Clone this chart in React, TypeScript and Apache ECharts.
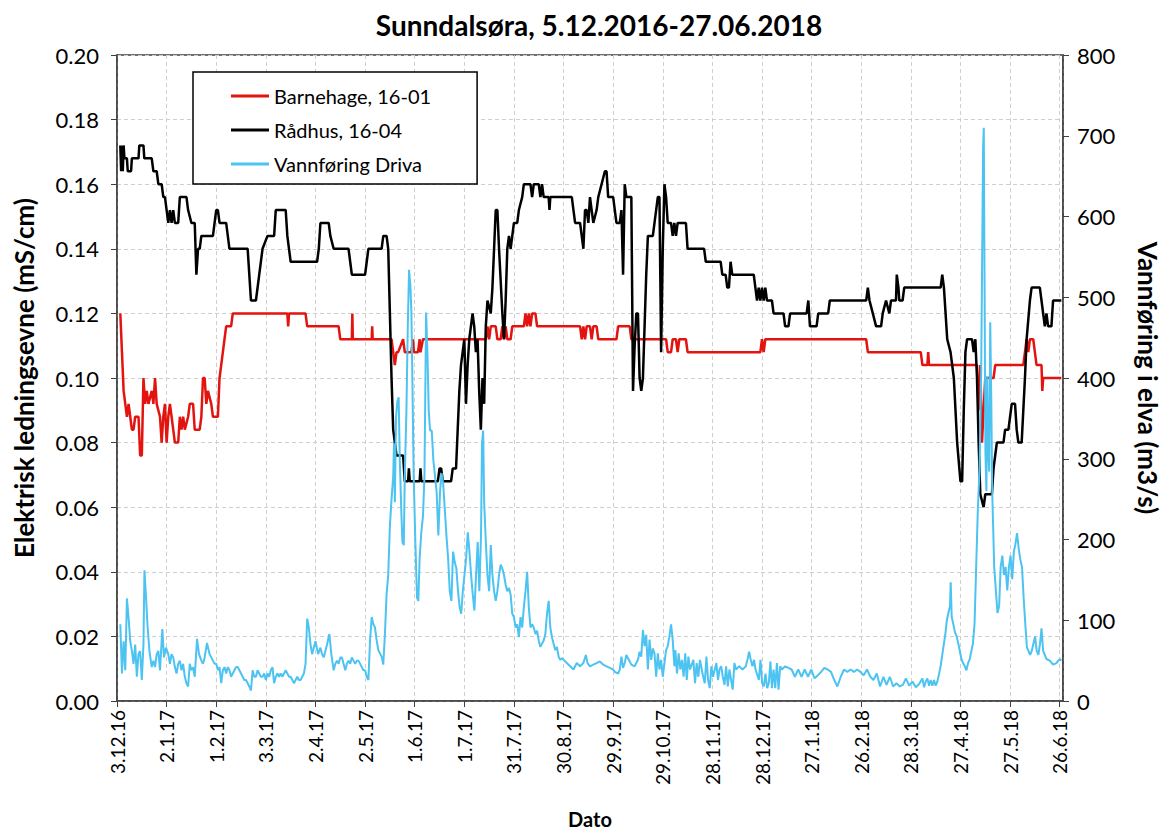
import React, { useEffect, useRef } from "react";
import * as echarts from "echarts";

const titleText = "Sunndalsøra, 5.12.2016-27.06.2018";
const xTickLabels = ["3.12.16","2.1.17","1.2.17","3.3.17","2.4.17","2.5.17","1.6.17","1.7.17","31.7.17","30.8.17","29.9.17","29.10.17","28.11.17","28.12.17","27.1.18","26.2.18","28.3.18","27.4.18","27.5.18","26.6.18"];
const seriesNames = ["Barnehage, 16-01", "Rådhus, 16-04", "Vannføring Driva"];

// [days since 3.12.16, mS/cm]
const barnehage: [number, number][] = [
[2,0.12],[3,0.108],[4,0.096],[5,0.092],[6,0.088],[7,0.092],[8,0.088],[9,0.084],[10,0.084],[11,0.088],[13,0.088],[14,0.076],[15,0.076],[16,0.1],[17,0.092],[18,0.096],[19,0.092],[21,0.096],[22,0.092],[23,0.1],[24,0.092],[26,0.088],[27,0.08],[28,0.088],[29,0.092],[30,0.08],[31,0.088],[32,0.092],[33,0.088],[34,0.084],[35,0.08],[37,0.08],[38,0.088],[39,0.084],[40,0.088],[41,0.084],[43,0.088],[44,0.092],[46,0.092],[47,0.084],[50,0.084],[51,0.088],[52,0.1],[53,0.1],[54,0.092],[55,0.096],[57,0.092],[58,0.088],[61,0.088],[62,0.1],[63,0.104],[64,0.108],[65,0.112],[66,0.116],[69,0.116],[70,0.12],[103,0.12],[103.5,0.116],[104,0.12],[114,0.12],[115,0.116],[134,0.116],[135,0.112],[142,0.112],[142.3,0.12],[142.6,0.112],[154,0.112],[154.3,0.116],[154.6,0.112],[166,0.112],[167,0.108],[168,0.104],[169,0.108],[170,0.108],[173,0.112],[174,0.108],[178,0.108],[179,0.112],[179.5,0.108],[182,0.108],[183,0.112],[183.5,0.108],[185,0.112],[223,0.112],[224,0.116],[225,0.112],[226,0.116],[229,0.116],[230,0.112],[232,0.112],[233,0.116],[234,0.112],[235,0.116],[236,0.112],[238,0.112],[239,0.116],[246,0.116],[247,0.12],[248,0.116],[249,0.12],[250,0.116],[251,0.12],[253,0.12],[254,0.116],[280,0.116],[281,0.112],[282,0.116],[283,0.112],[284,0.116],[286,0.116],[287,0.112],[288,0.116],[290,0.116],[291,0.112],[302,0.112],[303,0.116],[310,0.116],[311,0.112],[332,0.112],[333,0.108],[335,0.108],[336,0.112],[338,0.112],[339,0.108],[340,0.112],[344,0.112],[345,0.108],[389,0.108],[390,0.112],[391,0.108],[392,0.112],[453,0.112],[454,0.108],[486,0.108],[487,0.104],[490,0.104],[490.5,0.108],[491,0.104],[520,0.104],[521,0.09],[522,0.104],[523,0.08],[524,0.09],[525,0.1],[530,0.1],[531,0.104],[548,0.104],[549,0.108],[550,0.112],[551,0.108],[552,0.112],[554,0.112],[555,0.108],[556,0.104],[559,0.104],[559.5,0.096],[560,0.1],[571,0.1]
];

const raadhus: [number, number][] = [
[2,0.172],[2.5,0.164],[3,0.172],[3.5,0.164],[4,0.172],[4.5,0.168],[6,0.168],[6.5,0.164],[8.5,0.164],[9,0.168],[13,0.168],[13.5,0.172],[16,0.172],[16.5,0.168],[21,0.168],[22,0.164],[24,0.164],[25,0.16],[27,0.16],[28,0.156],[29,0.156],[30,0.152],[31,0.148],[32,0.152],[33,0.148],[34,0.152],[35,0.148],[37,0.148],[38,0.156],[42,0.156],[43,0.152],[45,0.148],[47,0.148],[48,0.132],[49,0.14],[50,0.14],[51,0.144],[58,0.144],[59,0.148],[60,0.152],[61,0.152],[62,0.148],[66,0.148],[67,0.144],[68,0.14],[79,0.14],[80,0.132],[81,0.124],[84,0.124],[86,0.132],[88,0.14],[91,0.144],[95,0.144],[96,0.152],[102,0.152],[103,0.144],[104,0.14],[105,0.136],[121,0.136],[122,0.14],[123,0.148],[128,0.148],[129,0.144],[131,0.14],[140,0.14],[141,0.136],[142,0.132],[150,0.132],[151,0.136],[152,0.14],[160,0.14],[161,0.144],[163,0.144],[164,0.14],[165,0.12],[166,0.1],[167,0.084],[168,0.08],[169,0.076],[173,0.076],[174,0.068],[176,0.068],[176.5,0.072],[177,0.068],[183,0.068],[183.5,0.072],[184,0.068],[194,0.068],[195,0.072],[196,0.072],[197,0.068],[202,0.068],[203,0.072],[205,0.072],[206,0.084],[207,0.096],[208,0.104],[209,0.108],[210,0.112],[211,0.092],[212,0.104],[213,0.112],[215,0.12],[216,0.116],[217,0.108],[218,0.112],[219,0.096],[220,0.084],[221,0.1],[222,0.092],[223,0.116],[224,0.124],[226,0.12],[227,0.128],[228,0.14],[229,0.152],[230,0.152],[231,0.14],[233,0.12],[234,0.112],[235,0.124],[236,0.14],[237,0.144],[238,0.14],[239,0.144],[240,0.148],[242,0.148],[243,0.152],[245,0.156],[246,0.16],[250,0.16],[251,0.156],[252,0.16],[255,0.16],[256,0.156],[257,0.16],[258,0.156],[261,0.156],[261.5,0.152],[262,0.156],[275,0.156],[276,0.152],[277,0.148],[280,0.148],[281,0.144],[282,0.14],[283,0.152],[284,0.152],[285,0.148],[286,0.156],[287,0.152],[288,0.148],[290,0.152],[291,0.156],[293,0.16],[295,0.164],[296,0.164],[297,0.156],[300,0.156],[301,0.152],[302,0.148],[304,0.148],[305,0.152],[306,0.132],[307,0.16],[308,0.156],[311,0.156],[312,0.096],[313,0.11],[314,0.12],[315,0.12],[316,0.1],[317,0.096],[318,0.1],[320,0.132],[321,0.144],[324,0.144],[325,0.148],[326,0.152],[327,0.156],[328,0.156],[329,0.108],[330,0.14],[331,0.16],[332,0.156],[333,0.148],[335,0.148],[336,0.144],[337,0.148],[338,0.144],[339,0.148],[344,0.148],[345,0.14],[355,0.14],[356,0.136],[365,0.136],[366,0.132],[368,0.132],[369,0.128],[370,0.128],[371,0.136],[372,0.132],[385,0.132],[386,0.128],[387,0.124],[388,0.128],[389,0.124],[390,0.128],[391,0.124],[392,0.128],[393,0.124],[396,0.124],[397,0.12],[403,0.12],[404,0.116],[406,0.116],[407,0.12],[417,0.12],[418,0.124],[419,0.116],[423,0.116],[424,0.12],[430,0.12],[431,0.124],[453,0.124],[454,0.128],[455,0.124],[457,0.12],[459,0.116],[462,0.116],[463,0.12],[465,0.124],[467,0.12],[468,0.124],[471,0.124],[471.5,0.132],[472.5,0.128],[473,0.124],[475,0.124],[476,0.128],[498,0.128],[499,0.132],[500,0.128],[501,0.12],[502,0.112],[504,0.108],[506,0.1],[508,0.08],[510,0.068],[511,0.068],[512,0.09],[513,0.108],[514,0.112],[517,0.112],[518,0.108],[519,0.112],[520,0.1],[521,0.08],[522,0.064],[524,0.06],[525,0.064],[529,0.064],[530,0.072],[531,0.076],[532,0.08],[536,0.08],[537,0.084],[539,0.084],[540,0.088],[541,0.092],[543,0.092],[544,0.084],[545,0.08],[547,0.08],[549,0.1],[550,0.112],[552,0.124],[553,0.128],[558,0.128],[559,0.124],[560,0.12],[561,0.116],[562,0.12],[563,0.116],[565,0.116],[566,0.124],[571,0.124]
];

// [days since 3.12.16, m3/s]
const vannforing: [number, number][] = [
[2,95],[3,34],[4,74],[5,38],[6,127],[7,103],[8,74],[9,62],[10,46],[11,70],[12,30],[13,58],[14,62],[15,26],[16,70],[16.6,162],[17.6,127],[18.4,95],[19.6,62],[21,42],[22,50],[23,42],[24,58],[25,62],[26,38],[27.4,89],[28.4,54],[29.6,66],[31,58],[32,46],[33,58],[34,54],[35,42],[36,34],[37,46],[38,50],[39,38],[40,46],[41,30],[42,22],[43,18],[44,46],[45,38],[46,42],[47,30],[48.4,77],[49.6,58],[51,50],[52,46],[53,54],[54.4,72],[56,58],[57,54],[58,50],[59,46],[60,46],[61,38],[62,42],[63,22],[64,38],[65,42],[66,34],[67,42],[68,38],[69,30],[70,34],[71,38],[72,42],[73,42],[74,38],[75,34],[76,30],[77,26],[78,26],[79,22],[80,18],[81,13],[82,38],[83,30],[84,30],[85,38],[86,34],[87,30],[88,30],[89,34],[90,26],[91,34],[92,30],[93,38],[94,42],[95,22],[96,30],[97,34],[98,30],[99,34],[100,30],[101,34],[102,38],[103,34],[104,30],[105,30],[106,26],[107,22],[108,26],[109,30],[110,26],[111,26],[112,30],[113,34],[114,46],[115,102],[116,91],[117,70],[118,58],[119,66],[120,74],[121.6,58],[123,66],[124,58],[125,54],[126,62],[127,70],[128.4,83],[129.6,58],[131,38],[132,46],[133,50],[134,46],[135,54],[136,54],[137,46],[138,38],[139,46],[140,50],[141,46],[142,54],[143,50],[144,46],[145,50],[146,50],[147,46],[148,42],[149,38],[150,38],[151,30],
[152,26],[153,75],[154,104],[155,95],[156,91],[157,75],[158,63],[159,59],[160,55],[161,45],[162,83],[163,132],[164,156],[165,217],[166,250],[167,278],[167.5,319],[168,246],[168.7,351],[169.5,371],[170.3,376],[171,298],[172,229],[172.6,197],[173.4,193],[174,278],[175,359],[175.8,461],[176.6,534],[177.4,514],[178,481],[178.6,400],[179.4,278],[180.4,197],[181.4,128],[182.2,124],[183,177],[184,209],[185,229],[185.9,278],[186.9,481],[187.7,432],[188.5,359],[189.3,335],[190.3,335],[191.3,298],[192.3,278],[193.3,258],[194.3,205],[195.3,258],[196.2,282],[197.2,270],[198.2,237],[199.2,205],[200.2,177],[201.2,136],[202.2,124],[203.2,185],[204.2,172],[205.2,164],[206.2,136],[207.2,116],[208.1,108],[209.1,136],[210.1,156],[211.1,177],[212.1,209],[213.1,185],[214.1,156],[215.1,132],[216.1,112],[217.1,156],[218.1,197],[219.1,136],[220.1,205],[220.7,319],[221.4,335],[222,246],[223,197],[224,156],[225,136],[226,193],[227,156],[228,136],[229,124],[230,136],[231,156],[232,169],[233,164],[234,156],[235,144],[236,136],[237,140],[238,132],[239,108],[240,104],[241,91],[242,95],[243,79],[244,104],[245,91],[246,116],[247,136],[248,160],[249,116],[250,91],[251,95],[252,91],[253,83],[254,87],[255,75],[256,67],[257,71],[258,75],[259,83],[260,108],[261,124],[262,91],[263,79],[264,71],[265,63],[266,67],[267,55],[268,51],[269,53],[270,51],[272,47],[274,43],[276,39],[278,47],[280,43],[282,47],[283.5,57],[284.5,47],[286,43],[288,45],[290,47],[292,49],[294,45],[296,43],[298,41],[300,39],
[301,36],[303,34],[304,39],[305,55],[306,41],[307,47],[308,57],[309,53],[310,49],[311,45],[313,43],[315,51],[316,61],[317,55],[318,88],[319,68],[320,82],[321,39],[322,76],[323,51],[324,65],[325,59],[326,30],[327,59],[328,39],[329,51],[330,30],[331,47],[332,63],[333,68],[334,80],[335,95],[336,76],[337,43],[337.6,63],[338.6,34],[339.6,59],[340.6,39],[341.6,51],[342.6,30],[343.6,59],[344.5,26],[345.5,55],[346.5,39],[348.5,51],[349.5,22],[350.5,47],[351.5,30],[352.5,51],[354.4,30],[355.4,22],[356.4,55],[357.4,26],[358.4,16],[359.4,43],[360.4,30],[362.4,47],[363.4,26],[364.3,39],[365.3,43],[366.3,30],[367.3,20],[368.3,43],[369.3,18],[370.3,39],[371.3,26],[372.3,14],[373.3,47],[374.3,39],[376.2,43],[378.2,39],[380.2,43],[381.2,51],[382.2,61],[383.2,51],[384.2,43],[385.2,51],[386.1,39],[388.1,26],[389.1,51],[390.1,22],[391.1,18],[392.1,34],[393.1,16],[394.1,22],[395.1,49],[396,16],[397,39],[398,16],[399,47],[400,14],[401,43],[402,39],[404,43],[406,41],[407.9,39],[409.9,30],[411.9,39],[413.9,30],[415.8,39],[417.8,30],[419.8,39],[421.8,28],[423.8,32],[425.7,36],[427.7,41],[429.7,39],[431.7,36],[433.7,26],[435.6,18],[437.6,30],[439.6,39],[441.6,36],[443.6,39],[445.6,36],[447.5,39],[449.5,36],[451.5,32],[453.5,39],[455.5,30],[457.4,26],[459.4,34],[461.4,18],[463.4,30],[465.3,20],[467.3,30],[469.3,18],[471.3,22],[473.3,18],[475.2,20],
[477,28],[479,19],[481,24],[483,17],[485,21],[487,28],[488,17],[489,24],[490,28],[491,19],[492,26],[493,19],[494,26],[495,19],[496,24],[497,33],[498,43],[499,57],[500,71],[501,85],[501.7,99],[502.7,109],[503.7,118],[504.1,147],[504.7,104],[505.7,95],[506.7,85],[507.7,80],[508.7,71],[509.6,62],[510.6,52],[511.6,47],[512.6,43],[513.6,38],[514.6,47],[515.6,52],[516.6,62],[517.5,71],[518.5,95],[519.5,166],[520.5,237],[521.5,284],[522.5,402],[523.1,544],[523.7,686],[524.1,710],[524.5,544],[525.1,308],[525.7,260],[526.2,402],[526.8,308],[527.4,284],[528,469],[528.6,379],[529.2,260],[529.8,213],[530.4,166],[531.4,137],[532.4,109],[533.4,118],[534.3,166],[535.3,180],[536.3,156],[537.3,166],[538.3,137],[539.3,166],[540.3,180],[541.3,151],[542.3,185],[543.2,194],[544.2,208],[545.2,189],[546.2,175],[547.2,166],[548.2,128],[549.2,95],[550.2,66],[551.1,62],[552.1,57],[553.1,62],[554.1,71],[555.1,80],[556.1,62],[557.1,57],[558.1,71],[559,90],[560,62],[561,57],[562,52],[564,50],[566,45],[568,47],[570,52],[571,50]
];

const FONT = "Lato, 'Open Sans', sans-serif";

export default function App() {
  const ref = useRef<HTMLDivElement>(null);
  useEffect(() => {
    document.body.style.margin = "0";
    document.body.style.overflow = "hidden";
    const el = ref.current;
    if (!el) return;
    const chart = echarts.init(el, undefined, { renderer: "svg" });
    const dash = { color: "#cfcfcf", type: [4, 3] as any, width: 1 };
    chart.setOption({
      animation: false,
      backgroundColor: "#ffffff",
      textStyle: { fontFamily: FONT },
      title: {
        text: titleText,
        left: 594,
        textAlign: "center",
        top: 6,
        textStyle: { fontFamily: FONT, fontSize: 28, fontWeight: "bold", color: "#000" },
      },
      legend: {
        orient: "vertical",
        left: 193,
        top: 72,
        padding: [14, 46, 10, 38],
        itemGap: 14,
        itemWidth: 38,
        itemHeight: 3,
        icon: "rect",
        borderColor: "#000",
        borderWidth: 1.5,
        backgroundColor: "#fff",
        textStyle: { fontFamily: FONT, fontSize: 20, color: "#000", lineHeight: 20 },
        data: seriesNames,
      },
      grid: {
        left: 117,
        top: 55,
        width: 957,
        height: 657,
        show: true,
        borderColor: "#404040",
        borderWidth: 1.5,
        containLabel: false,
      },
      xAxis: {
        type: "value",
        min: 0,
        max: 572,
        interval: 30,
        name: "Dato",
        nameLocation: "middle",
        nameGap: 108,
        nameTextStyle: { fontFamily: FONT, fontSize: 20, fontWeight: "bold", color: "#000" },
        axisLine: { show: true, lineStyle: { color: "#404040", width: 1.5 } },
        axisTick: { show: true, length: 6, lineStyle: { color: "#404040" } },
        axisLabel: {
          rotate: 90,
          margin: 9,
          fontFamily: FONT,
          fontSize: 19,
          color: "#000",
          showMaxLabel: false,
          formatter: (v: number) => (v % 30 === 0 ? xTickLabels[v / 30] ?? "" : ""),
        },
        splitLine: { show: true, lineStyle: dash },
      },
      yAxis: [
        {
          type: "value",
          min: 0,
          max: 0.2,
          interval: 0.02,
          position: "left",
          name: "Elektrisk ledningsevne (mS/cm)",
          nameLocation: "middle",
          nameGap: 80,
          nameRotate: 90,
          nameTextStyle: { fontFamily: FONT, fontSize: 26, fontWeight: "bold", color: "#000" },
          axisLine: { show: true, lineStyle: { color: "#404040", width: 1.5 } },
          axisTick: { show: true, length: 6, lineStyle: { color: "#404040" } },
          axisLabel: {
            margin: 18,
            fontFamily: FONT,
            fontSize: 22,
            color: "#000",
            formatter: (v: number) => v.toFixed(2),
          },
          splitLine: { show: true, lineStyle: dash },
        },
        {
          type: "value",
          min: 0,
          max: 800,
          interval: 100,
          position: "right",
          name: "Vannføring i elva (m3/s)",
          nameLocation: "middle",
          nameGap: 72,
          nameRotate: -90,
          nameTextStyle: { fontFamily: FONT, fontSize: 26, fontWeight: "bold", color: "#000" },
          axisLine: { show: true, lineStyle: { color: "#404040", width: 1.5 } },
          axisTick: { show: true, length: 6, lineStyle: { color: "#404040" } },
          axisLabel: { margin: 14, fontFamily: FONT, fontSize: 22, color: "#000" },
          splitLine: { show: false },
        },
      ],
      series: [
        {
          name: seriesNames[0],
          type: "line",
          yAxisIndex: 0,
          data: barnehage,
          symbol: "none",
          lineStyle: { color: "#e3140f", width: 2.5 },
          itemStyle: { color: "#e3140f" },
          z: 2,
        },
        {
          name: seriesNames[1],
          type: "line",
          yAxisIndex: 0,
          data: raadhus,
          symbol: "none",
          lineStyle: { color: "#000000", width: 2.5 },
          itemStyle: { color: "#000000" },
          z: 3,
        },
        {
          name: seriesNames[2],
          type: "line",
          yAxisIndex: 1,
          data: vannforing,
          symbol: "none",
          lineStyle: { color: "#4cc3f1", width: 2 },
          itemStyle: { color: "#4cc3f1" },
          z: 4,
        },
      ],
    });
    return () => chart.dispose();
  }, []);
  return <div ref={ref} style={{ position: "fixed", left: 0, top: 0, width: 1169, height: 834 }} />;
}
